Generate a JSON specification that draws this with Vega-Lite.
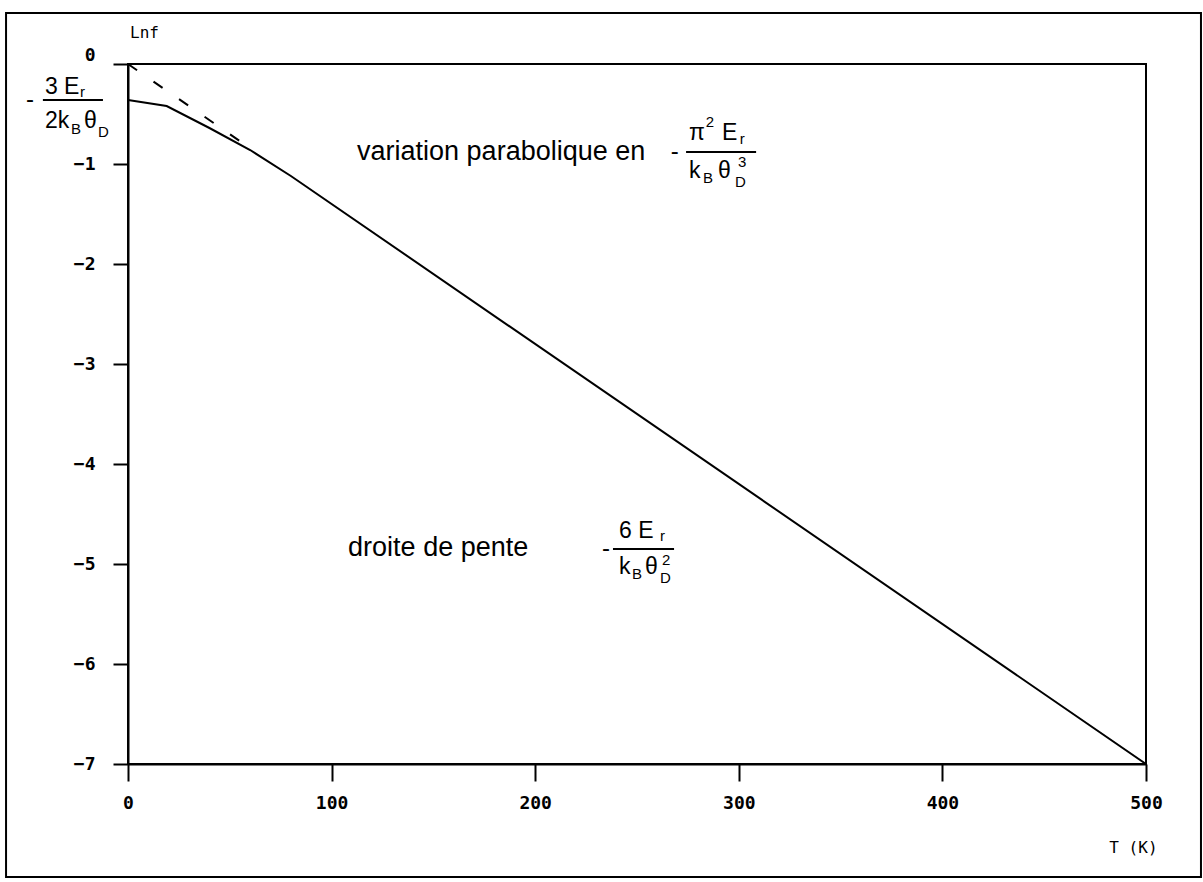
{
  "$schema": "https://vega.github.io/schema/vega-lite/v6.json",
  "width": 1018,
  "height": 700,
  "autosize": {"type": "none"},
  "padding": {"left": 128, "top": 64, "right": 57, "bottom": 118},
  "background": "white",
  "config": {
    "view": {"stroke": "black", "strokeWidth": 2},
    "axis": {"grid": false, "domainColor": "black", "domainWidth": 2, "tickColor": "black", "tickWidth": 2, "labelColor": "black", "labelFont": "DejaVu Sans Mono", "labelFontWeight": "bold", "labelFontSize": 18}
  },
  "datasets": {
    "curve": [
      {"T": 0, "lnf": -0.36},
      {"T": 19, "lnf": -0.42},
      {"T": 40, "lnf": -0.64},
      {"T": 60, "lnf": -0.86},
      {"T": 80, "lnf": -1.12},
      {"T": 500, "lnf": -7.0}
    ],
    "asymptote": [
      {"T": 0, "lnf": 0},
      {"T": 62, "lnf": -0.87}
    ],
    "frame": [{"T": -59.9, "T2": 527.0, "lnf": 0.51, "lnf2": -8.13}],
    "bigtext": [
      {"T": 112.5, "lnf": -0.96, "label": "variation parabolique en"},
      {"T": 108.1, "lnf": -4.92, "label": "droite de pente"}
    ],
    "minus": [
      {"T": -48.1, "lnf": -0.36, "label": "-"},
      {"T": 268.6, "lnf": -0.88, "label": "-"},
      {"T": 234.8, "lnf": -4.85, "label": "-"}
    ],
    "glyphs": [
      {"T": -40.8, "lnf": -0.30, "label": "3 E"},
      {"T": -40.8, "lnf": -0.64, "label": "2k"},
      {"T": -21.6, "lnf": -0.64, "label": "θ"},
      {"T": 275.5, "lnf": -0.76, "label": "π"},
      {"T": 291.7, "lnf": -0.76, "label": "E"},
      {"T": 275.5, "lnf": -1.14, "label": "k"},
      {"T": 289.8, "lnf": -1.14, "label": "θ"},
      {"T": 241.2, "lnf": -4.74, "label": "6 E"},
      {"T": 241.2, "lnf": -5.10, "label": "k"},
      {"T": 253.9, "lnf": -5.10, "label": "θ"}
    ],
    "small": [
      {"T": -23.6, "lnf": -0.33, "label": "r"},
      {"T": -28.0, "lnf": -0.70, "label": "B"},
      {"T": -14.7, "lnf": -0.73, "label": "D"},
      {"T": 283.8, "lnf": -0.63, "label": "2"},
      {"T": 300.5, "lnf": -0.80, "label": "r"},
      {"T": 282.4, "lnf": -1.19, "label": "B"},
      {"T": 298.1, "lnf": -1.23, "label": "D"},
      {"T": 299.6, "lnf": -1.03, "label": "3"},
      {"T": 261.3, "lnf": -4.77, "label": "r"},
      {"T": 247.5, "lnf": -5.15, "label": "B"},
      {"T": 261.3, "lnf": -5.19, "label": "D"},
      {"T": 262.3, "lnf": -5.01, "label": "2"}
    ],
    "bars": [
      {"T": -41.8, "T2": -12.3, "lnf": -0.36},
      {"T": 274.1, "T2": 308.5, "lnf": -0.88},
      {"T": 238.2, "T2": 268.2, "lnf": -4.85}
    ],
    "axislabels": [
      {"T": 1.0, "lnf": 0.26, "label": "Lnf"},
      {"T": 482.0, "lnf": -7.89, "label": "T (K)"}
    ]
  },
  "layer": [
    {
      "data": {"name": "frame"},
      "mark": {"type": "rect", "fill": "white", "fillOpacity": 0, "stroke": "black", "strokeWidth": 2, "clip": false},
      "encoding": {
        "x": {"field": "T", "type": "quantitative", "title": null, "scale": {"domain": [0, 500], "nice": false, "zero": false}},
        "x2": {"field": "T2"},
        "y": {"field": "lnf", "type": "quantitative", "title": null, "scale": {"domain": [-7, 0], "nice": false, "zero": false}},
        "y2": {"field": "lnf2"}
      }
    },
    {
      "data": {"name": "curve"},
      "mark": {"type": "line", "color": "black", "strokeWidth": 2, "clip": false},
      "encoding": {
        "x": {"field": "T", "type": "quantitative", "title": null, "scale": {"domain": [0, 500], "nice": false, "zero": false},
          "axis": {"values": [0, 100, 200, 300, 400, 500], "format": "d", "tickSize": 17, "labelPadding": 13, "labelFlush": false, "labelOverlap": false}},
        "y": {"field": "lnf", "type": "quantitative", "title": null, "scale": {"domain": [-7, 0], "nice": false, "zero": false},
          "axis": {"values": [-7, -6, -5, -4, -3, -2, -1, 0], "format": "d", "tickSize": 15, "labelPadding": 18, "labelFlush": false, "labelOverlap": false,
            "labelBaseline": {"condition": {"test": "datum.value == 0", "value": "bottom"}, "value": "middle"}}}
      }
    },
    {
      "data": {"name": "asymptote"},
      "mark": {"type": "line", "color": "black", "strokeWidth": 2, "strokeDash": [11, 20], "clip": false},
      "encoding": {
        "x": {"field": "T", "type": "quantitative", "title": null, "scale": {"domain": [0, 500], "nice": false, "zero": false}},
        "y": {"field": "lnf", "type": "quantitative", "title": null, "scale": {"domain": [-7, 0], "nice": false, "zero": false}}
      }
    },
    {
      "data": {"name": "bigtext"},
      "mark": {"type": "text", "font": "Liberation Sans", "fontSize": 27, "align": "left", "baseline": "alphabetic", "color": "black", "clip": false},
      "encoding": {
        "x": {"field": "T", "type": "quantitative", "title": null, "scale": {"domain": [0, 500], "nice": false, "zero": false}},
        "y": {"field": "lnf", "type": "quantitative", "title": null, "scale": {"domain": [-7, 0], "nice": false, "zero": false}},
        "text": {"field": "label"}
      }
    },
    {
      "data": {"name": "minus"},
      "mark": {"type": "text", "font": "Liberation Sans", "fontSize": 24, "align": "center", "baseline": "middle", "color": "black", "clip": false},
      "encoding": {
        "x": {"field": "T", "type": "quantitative", "title": null, "scale": {"domain": [0, 500], "nice": false, "zero": false}},
        "y": {"field": "lnf", "type": "quantitative", "title": null, "scale": {"domain": [-7, 0], "nice": false, "zero": false}},
        "text": {"field": "label"}
      }
    },
    {
      "data": {"name": "glyphs"},
      "mark": {"type": "text", "font": "Liberation Sans", "fontSize": 23, "align": "left", "baseline": "alphabetic", "color": "black", "clip": false},
      "encoding": {
        "x": {"field": "T", "type": "quantitative", "title": null, "scale": {"domain": [0, 500], "nice": false, "zero": false}},
        "y": {"field": "lnf", "type": "quantitative", "title": null, "scale": {"domain": [-7, 0], "nice": false, "zero": false}},
        "text": {"field": "label"}
      }
    },
    {
      "data": {"name": "small"},
      "mark": {"type": "text", "font": "Liberation Sans", "fontSize": 15, "align": "left", "baseline": "alphabetic", "color": "black", "clip": false},
      "encoding": {
        "x": {"field": "T", "type": "quantitative", "title": null, "scale": {"domain": [0, 500], "nice": false, "zero": false}},
        "y": {"field": "lnf", "type": "quantitative", "title": null, "scale": {"domain": [-7, 0], "nice": false, "zero": false}},
        "text": {"field": "label"}
      }
    },
    {
      "data": {"name": "bars"},
      "mark": {"type": "rule", "color": "black", "strokeWidth": 2, "clip": false},
      "encoding": {
        "x": {"field": "T", "type": "quantitative", "title": null, "scale": {"domain": [0, 500], "nice": false, "zero": false}},
        "x2": {"field": "T2"},
        "y": {"field": "lnf", "type": "quantitative", "title": null, "scale": {"domain": [-7, 0], "nice": false, "zero": false}}
      }
    },
    {
      "data": {"name": "axislabels"},
      "mark": {"type": "text", "font": "DejaVu Sans Mono", "fontSize": 16, "align": "left", "baseline": "alphabetic", "color": "black", "clip": false},
      "encoding": {
        "x": {"field": "T", "type": "quantitative", "title": null, "scale": {"domain": [0, 500], "nice": false, "zero": false}},
        "y": {"field": "lnf", "type": "quantitative", "title": null, "scale": {"domain": [-7, 0], "nice": false, "zero": false}},
        "text": {"field": "label"}
      }
    }
  ]
}
